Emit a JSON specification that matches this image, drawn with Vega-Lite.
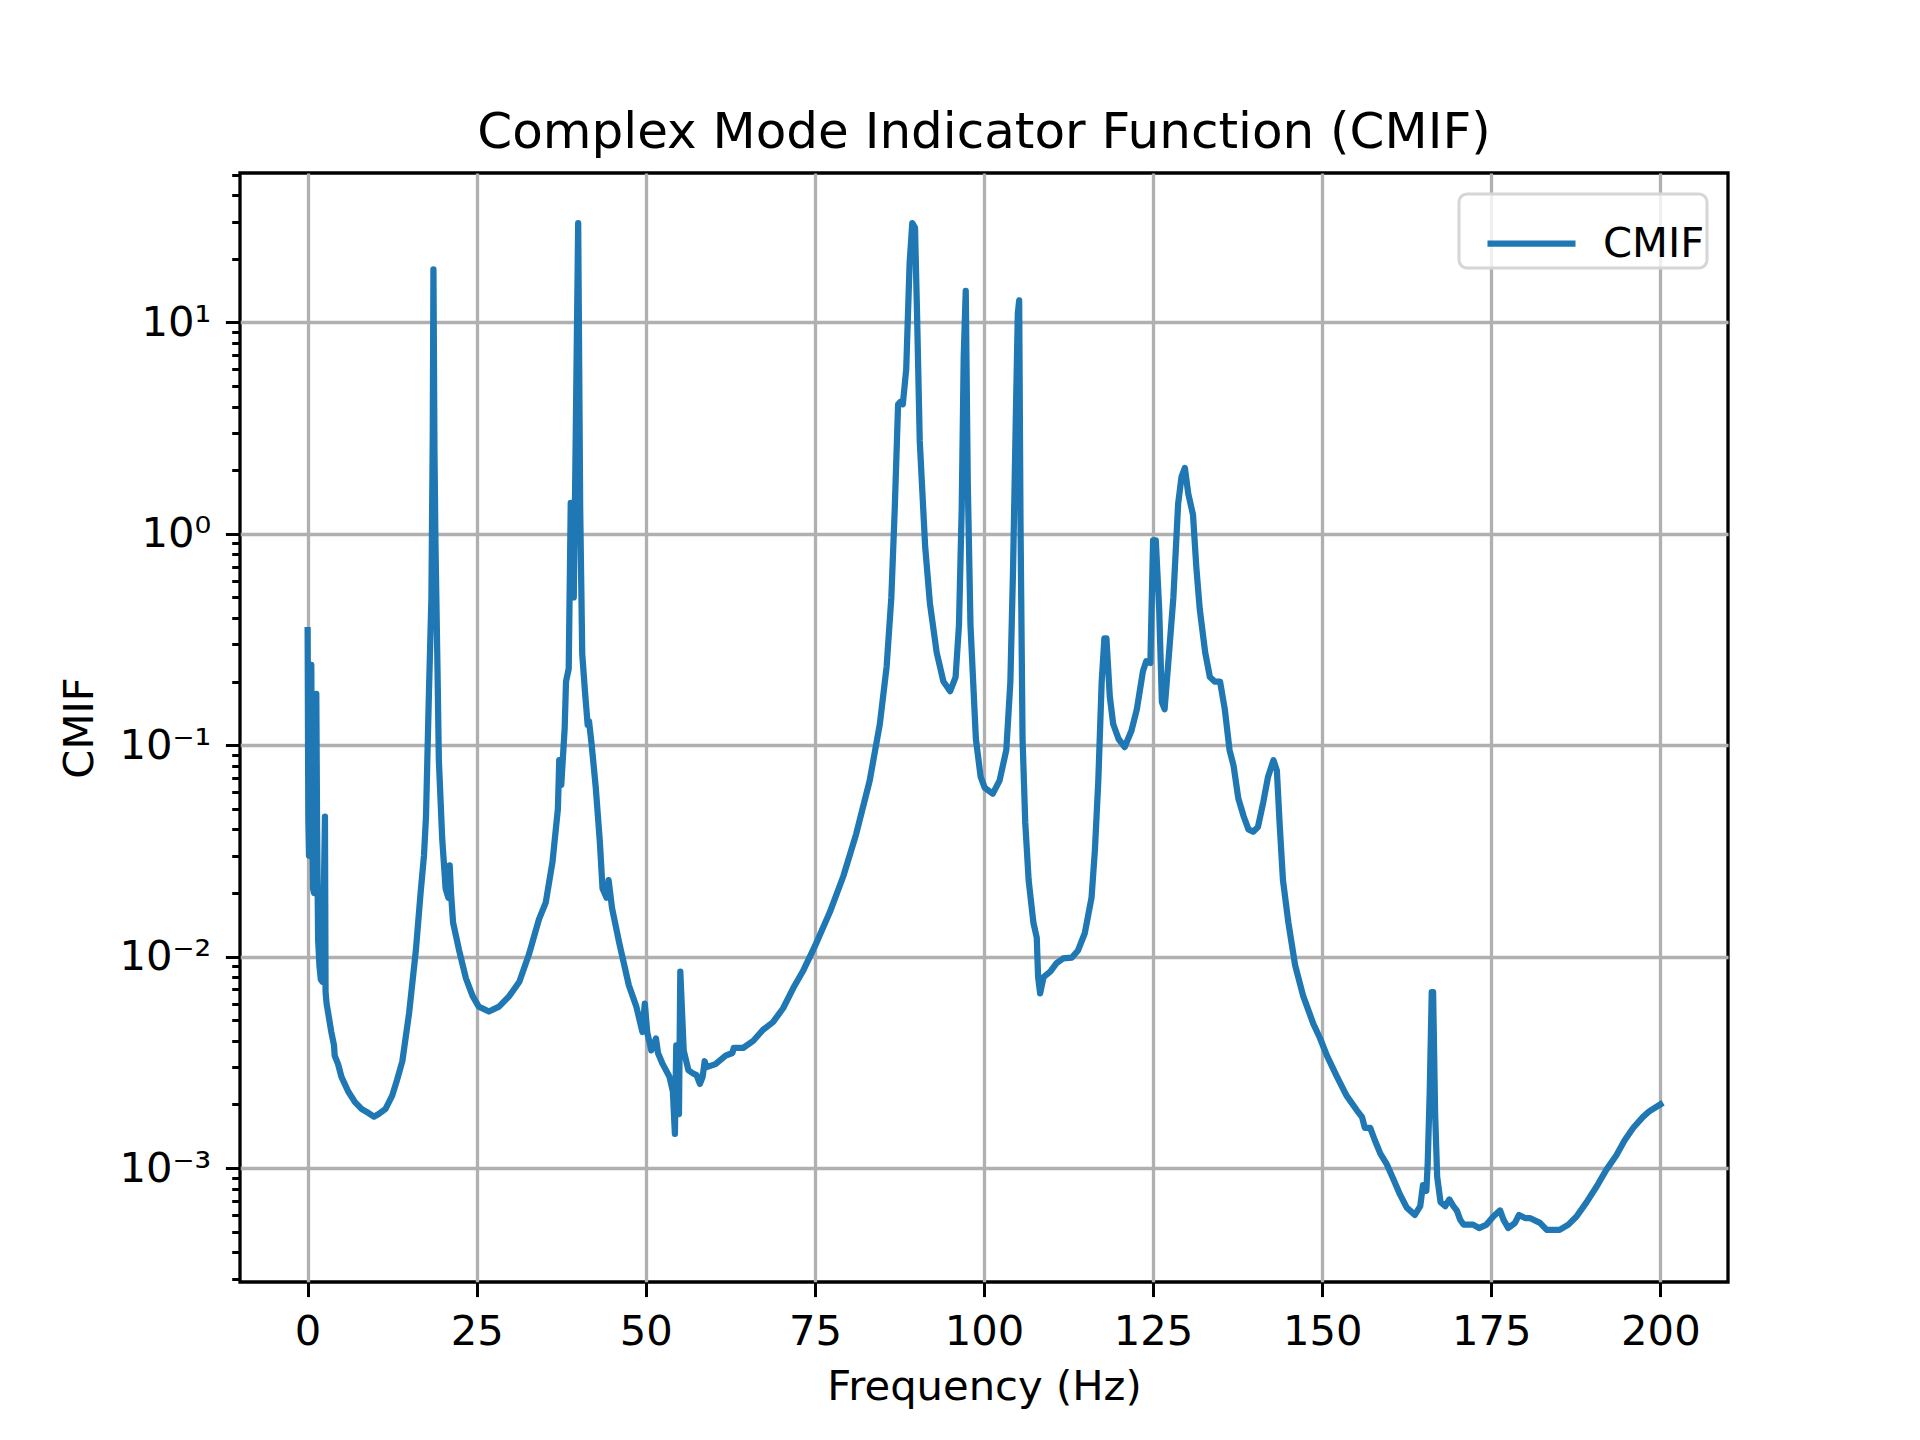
{
  "$schema": "https://vega.github.io/schema/vega-lite/v6.json",
  "title": {
    "text": "Complex Mode Indicator Function (CMIF)",
    "font": "DejaVu Sans",
    "fontSize": 50,
    "fontWeight": "normal",
    "color": "black",
    "anchor": "middle",
    "offset": -3
  },
  "autosize": {"type": "none"},
  "width": 1488,
  "height": 1109,
  "padding": {"left": 240, "top": 173, "right": 192, "bottom": 158},
  "data": {
    "values": [
      {"f": 0.0, "v": 0.35}, {"f": 0.1, "v": 0.045}, {"f": 0.2, "v": 0.03}, {"f": 0.35, "v": 0.05},
      {"f": 0.54, "v": 0.24}, {"f": 0.65, "v": 0.06}, {"f": 0.8, "v": 0.021}, {"f": 0.95, "v": 0.02},
      {"f": 1.1, "v": 0.04}, {"f": 1.28, "v": 0.175}, {"f": 1.4, "v": 0.04}, {"f": 1.55, "v": 0.012},
      {"f": 1.75, "v": 0.009}, {"f": 1.95, "v": 0.0078}, {"f": 2.2, "v": 0.0076}, {"f": 2.56, "v": 0.046},
      {"f": 2.65, "v": 0.0068}, {"f": 2.8, "v": 0.006}, {"f": 3.0, "v": 0.0055}, {"f": 3.5, "v": 0.0044},
      {"f": 3.9, "v": 0.0038}, {"f": 4.0, "v": 0.0034}, {"f": 4.5, "v": 0.0031}, {"f": 5.0, "v": 0.0027},
      {"f": 6.0, "v": 0.0023}, {"f": 7.0, "v": 0.00205}, {"f": 8.0, "v": 0.0019}, {"f": 9.0, "v": 0.00182},
      {"f": 9.8, "v": 0.00175}, {"f": 10.5, "v": 0.0018}, {"f": 11.5, "v": 0.0019}, {"f": 12.5, "v": 0.0022},
      {"f": 13.2, "v": 0.0026}, {"f": 14.0, "v": 0.0032}, {"f": 15.0, "v": 0.0054}, {"f": 16.0, "v": 0.0107},
      {"f": 16.7, "v": 0.02}, {"f": 17.2, "v": 0.03}, {"f": 17.5, "v": 0.046}, {"f": 17.9, "v": 0.16},
      {"f": 18.3, "v": 0.5}, {"f": 18.5, "v": 3.0}, {"f": 18.6, "v": 17.8}, {"f": 18.75, "v": 2.5},
      {"f": 18.9, "v": 0.9}, {"f": 19.2, "v": 0.23}, {"f": 19.4, "v": 0.085}, {"f": 19.9, "v": 0.036},
      {"f": 20.4, "v": 0.021}, {"f": 20.8, "v": 0.019}, {"f": 21.0, "v": 0.027}, {"f": 21.2, "v": 0.02},
      {"f": 21.5, "v": 0.0145}, {"f": 22.4, "v": 0.0107}, {"f": 23.4, "v": 0.0079}, {"f": 24.4, "v": 0.0065},
      {"f": 25.3, "v": 0.0058}, {"f": 26.8, "v": 0.0055}, {"f": 28.3, "v": 0.0058}, {"f": 29.8, "v": 0.0065},
      {"f": 31.3, "v": 0.0076}, {"f": 32.7, "v": 0.0102}, {"f": 34.2, "v": 0.015}, {"f": 35.2, "v": 0.018},
      {"f": 36.2, "v": 0.028}, {"f": 37.0, "v": 0.05}, {"f": 37.2, "v": 0.085}, {"f": 37.5, "v": 0.065},
      {"f": 38.0, "v": 0.12}, {"f": 38.2, "v": 0.2}, {"f": 38.6, "v": 0.23}, {"f": 38.9, "v": 1.4},
      {"f": 39.1, "v": 0.5}, {"f": 39.35, "v": 0.5}, {"f": 39.6, "v": 2.3}, {"f": 40.0, "v": 29.5},
      {"f": 40.3, "v": 1.3}, {"f": 40.6, "v": 0.27}, {"f": 41.0, "v": 0.18}, {"f": 41.4, "v": 0.125},
      {"f": 41.6, "v": 0.13}, {"f": 42.0, "v": 0.1}, {"f": 42.6, "v": 0.063}, {"f": 43.2, "v": 0.035},
      {"f": 43.6, "v": 0.021}, {"f": 44.2, "v": 0.019}, {"f": 44.5, "v": 0.023}, {"f": 45.0, "v": 0.017},
      {"f": 46.1, "v": 0.0115}, {"f": 47.5, "v": 0.0073}, {"f": 48.6, "v": 0.0058}, {"f": 49.5, "v": 0.0044},
      {"f": 49.85, "v": 0.006}, {"f": 50.2, "v": 0.0044}, {"f": 50.8, "v": 0.0036}, {"f": 51.5, "v": 0.0041},
      {"f": 51.8, "v": 0.0035}, {"f": 52.5, "v": 0.0031}, {"f": 53.5, "v": 0.0027}, {"f": 54.0, "v": 0.0023},
      {"f": 54.3, "v": 0.00145}, {"f": 54.5, "v": 0.0038}, {"f": 54.7, "v": 0.0033}, {"f": 54.9, "v": 0.0018},
      {"f": 55.1, "v": 0.0085}, {"f": 55.6, "v": 0.0036}, {"f": 56.3, "v": 0.0029}, {"f": 57.0, "v": 0.0028},
      {"f": 57.5, "v": 0.00275}, {"f": 58.0, "v": 0.0025}, {"f": 58.4, "v": 0.0027}, {"f": 58.7, "v": 0.0032},
      {"f": 59.0, "v": 0.003}, {"f": 60.3, "v": 0.0031}, {"f": 61.8, "v": 0.0034}, {"f": 62.8, "v": 0.0035},
      {"f": 63.0, "v": 0.0037}, {"f": 64.4, "v": 0.0037}, {"f": 65.9, "v": 0.004}, {"f": 67.3, "v": 0.0045},
      {"f": 68.8, "v": 0.0049}, {"f": 70.3, "v": 0.0057}, {"f": 71.8, "v": 0.0071}, {"f": 73.2, "v": 0.0085},
      {"f": 75.0, "v": 0.0112}, {"f": 77.2, "v": 0.0162}, {"f": 79.2, "v": 0.024}, {"f": 81.1, "v": 0.038},
      {"f": 83.1, "v": 0.068}, {"f": 84.6, "v": 0.126}, {"f": 85.6, "v": 0.235}, {"f": 86.3, "v": 0.5},
      {"f": 86.8, "v": 1.3}, {"f": 87.3, "v": 4.1}, {"f": 87.6, "v": 4.2}, {"f": 88.0, "v": 4.1},
      {"f": 88.5, "v": 6.0}, {"f": 89.0, "v": 19}, {"f": 89.4, "v": 29.5}, {"f": 89.8, "v": 28},
      {"f": 90.1, "v": 11}, {"f": 90.5, "v": 2.75}, {"f": 91.3, "v": 0.87}, {"f": 92.0, "v": 0.47},
      {"f": 93.0, "v": 0.275}, {"f": 94.0, "v": 0.2}, {"f": 95.0, "v": 0.18}, {"f": 95.8, "v": 0.21},
      {"f": 96.3, "v": 0.37}, {"f": 96.7, "v": 1.3}, {"f": 97.0, "v": 6.9}, {"f": 97.3, "v": 14.1},
      {"f": 97.6, "v": 1.75}, {"f": 98.0, "v": 0.37}, {"f": 98.8, "v": 0.107}, {"f": 99.5, "v": 0.071},
      {"f": 100.1, "v": 0.063}, {"f": 101.3, "v": 0.059}, {"f": 102.3, "v": 0.068}, {"f": 103.3, "v": 0.095},
      {"f": 103.9, "v": 0.2}, {"f": 104.3, "v": 0.69}, {"f": 104.7, "v": 3.5}, {"f": 105.0, "v": 11},
      {"f": 105.2, "v": 12.7}, {"f": 105.4, "v": 1.1}, {"f": 105.7, "v": 0.107}, {"f": 106.1, "v": 0.043},
      {"f": 106.6, "v": 0.023}, {"f": 107.3, "v": 0.0145}, {"f": 107.8, "v": 0.0123}, {"f": 108.0, "v": 0.008},
      {"f": 108.3, "v": 0.0067}, {"f": 108.8, "v": 0.008}, {"f": 109.8, "v": 0.0085}, {"f": 110.7, "v": 0.0093},
      {"f": 111.7, "v": 0.0098}, {"f": 113.0, "v": 0.0099}, {"f": 113.9, "v": 0.0107}, {"f": 114.9, "v": 0.0129},
      {"f": 115.9, "v": 0.019}, {"f": 116.4, "v": 0.032}, {"f": 116.9, "v": 0.068}, {"f": 117.4, "v": 0.2},
      {"f": 117.8, "v": 0.32}, {"f": 118.1, "v": 0.32}, {"f": 118.6, "v": 0.17}, {"f": 119.1, "v": 0.126},
      {"f": 119.9, "v": 0.107}, {"f": 120.8, "v": 0.098}, {"f": 121.8, "v": 0.117}, {"f": 122.6, "v": 0.148},
      {"f": 123.5, "v": 0.224}, {"f": 124.0, "v": 0.25}, {"f": 124.6, "v": 0.245}, {"f": 125.0, "v": 0.93},
      {"f": 125.4, "v": 0.93}, {"f": 125.9, "v": 0.44}, {"f": 126.3, "v": 0.16}, {"f": 126.7, "v": 0.148},
      {"f": 127.2, "v": 0.235}, {"f": 128.0, "v": 0.5}, {"f": 128.7, "v": 1.38}, {"f": 129.2, "v": 1.86},
      {"f": 129.7, "v": 2.05}, {"f": 130.2, "v": 1.55}, {"f": 130.9, "v": 1.23}, {"f": 131.4, "v": 0.69},
      {"f": 131.9, "v": 0.44}, {"f": 132.7, "v": 0.275}, {"f": 133.4, "v": 0.21}, {"f": 134.1, "v": 0.2},
      {"f": 134.9, "v": 0.2}, {"f": 135.6, "v": 0.148}, {"f": 136.3, "v": 0.095}, {"f": 136.9, "v": 0.08},
      {"f": 137.6, "v": 0.056}, {"f": 138.4, "v": 0.046}, {"f": 139.1, "v": 0.04}, {"f": 139.8, "v": 0.039},
      {"f": 140.5, "v": 0.041}, {"f": 141.3, "v": 0.054}, {"f": 142.0, "v": 0.071}, {"f": 142.8, "v": 0.085},
      {"f": 143.3, "v": 0.076}, {"f": 143.7, "v": 0.043}, {"f": 144.2, "v": 0.023}, {"f": 145.0, "v": 0.0145},
      {"f": 146.0, "v": 0.0091}, {"f": 147.2, "v": 0.0065}, {"f": 148.7, "v": 0.0048}, {"f": 149.7, "v": 0.0041},
      {"f": 150.7, "v": 0.0034}, {"f": 152.2, "v": 0.0027}, {"f": 153.6, "v": 0.0022}, {"f": 155.1, "v": 0.00188},
      {"f": 155.9, "v": 0.00174}, {"f": 156.3, "v": 0.00155}, {"f": 157.1, "v": 0.00155}, {"f": 157.8, "v": 0.00135},
      {"f": 158.6, "v": 0.00117}, {"f": 159.5, "v": 0.00105}, {"f": 160.5, "v": 0.00089}, {"f": 161.5, "v": 0.00075},
      {"f": 162.5, "v": 0.00065}, {"f": 163.7, "v": 0.0006}, {"f": 164.5, "v": 0.00066}, {"f": 164.9, "v": 0.00083},
      {"f": 165.4, "v": 0.00078}, {"f": 165.6, "v": 0.00105}, {"f": 165.9, "v": 0.0023}, {"f": 166.2, "v": 0.0068},
      {"f": 166.4, "v": 0.0068}, {"f": 166.7, "v": 0.0018}, {"f": 167.0, "v": 0.00091}, {"f": 167.5, "v": 0.00069},
      {"f": 168.2, "v": 0.00066}, {"f": 168.8, "v": 0.00071}, {"f": 169.4, "v": 0.00066}, {"f": 169.9, "v": 0.00063},
      {"f": 170.4, "v": 0.00057}, {"f": 170.9, "v": 0.00054}, {"f": 172.3, "v": 0.00054}, {"f": 173.2, "v": 0.00052},
      {"f": 174.3, "v": 0.00054}, {"f": 175.3, "v": 0.00059}, {"f": 176.3, "v": 0.00063}, {"f": 176.8, "v": 0.00057},
      {"f": 177.5, "v": 0.00052}, {"f": 178.5, "v": 0.00055}, {"f": 179.1, "v": 0.0006}, {"f": 180.0, "v": 0.00058},
      {"f": 180.7, "v": 0.00058}, {"f": 182.2, "v": 0.00055}, {"f": 183.2, "v": 0.00051}, {"f": 184.2, "v": 0.00051},
      {"f": 185.1, "v": 0.00051}, {"f": 186.4, "v": 0.00054}, {"f": 187.6, "v": 0.00059}, {"f": 189.1, "v": 0.00069},
      {"f": 190.6, "v": 0.00082}, {"f": 192.0, "v": 0.00098}, {"f": 193.5, "v": 0.00115}, {"f": 194.7, "v": 0.00135},
      {"f": 196.0, "v": 0.00155}, {"f": 197.4, "v": 0.00174}, {"f": 198.4, "v": 0.00186}, {"f": 200.0, "v": 0.002}
    ]
  },
  "transform": [{"calculate": "'CMIF'", "as": "series"}],
  "mark": {"type": "line", "strokeWidth": 6.25, "strokeJoin": "round", "strokeCap": "square", "clip": true},
  "encoding": {
    "x": {
      "field": "f",
      "type": "quantitative",
      "title": "Frequency (Hz)",
      "scale": {"domain": [-10, 210], "nice": false, "zero": false},
      "axis": {
        "values": [0, 25, 50, 75, 100, 125, 150, 175, 200],
        "format": "d",
        "titlePadding": 14
      }
    },
    "y": {
      "field": "v",
      "type": "quantitative",
      "title": "CMIF",
      "scale": {"type": "log", "domain": [0.000289, 50.9], "nice": false, "zero": false},
      "axis": {
        "values": [0.0003, 0.0004, 0.0005, 0.0006, 0.0007, 0.0008, 0.0009,
                   0.001, 0.002, 0.003, 0.004, 0.005, 0.006, 0.007, 0.008, 0.009,
                   0.01, 0.02, 0.03, 0.04, 0.05, 0.06, 0.07, 0.08, 0.09,
                   0.1, 0.2, 0.3, 0.4, 0.5, 0.6, 0.7, 0.8, 0.9,
                   1, 2, 3, 4, 5, 6, 7, 8, 9,
                   10, 20, 30, 40, 50],
        "labelExpr": "datum.value == 10 ? '10¹' : datum.value == 1 ? '10⁰' : datum.value == 0.1 ? '10⁻¹' : datum.value == 0.01 ? '10⁻²' : datum.value == 0.001 ? '10⁻³' : ''",
        "tickSize": {"condition": {"test": "abs(log(datum.value)/LN10 - round(log(datum.value)/LN10)) < 0.0001", "value": 14.6}, "value": 8.3},
        "gridOpacity": {"condition": {"test": "abs(log(datum.value)/LN10 - round(log(datum.value)/LN10)) < 0.0001", "value": 1}, "value": 0},
        "labelOverlap": false,
        "labelBound": false,
        "titlePadding": 18
      }
    },
    "color": {
      "field": "series",
      "type": "nominal",
      "scale": {"range": ["#1f77b4"]},
      "legend": {
        "title": null,
        "orient": "top-right",
        "offset": 21,
        "padding": 2,
        "fillColor": "rgba(255,255,255,0.8)",
        "strokeColor": "#d6d6d6",
        "cornerRadius": 8,
        "symbolType": "stroke",
        "symbolSize": 7744,
        "symbolOffset": 23,
        "symbolStrokeWidth": 6.25,
        "labelFont": "DejaVu Sans",
        "labelFontSize": 41.7,
        "labelColor": "black",
        "labelOffset": 24,
        "encode": {
          "legend": {"update": {"strokeWidth": {"value": 3}}}
        }
      }
    }
  },
  "config": {
    "view": {"stroke": "black", "strokeWidth": 3.3},
    "axis": {
      "domain": false,
      "grid": true,
      "gridColor": "#b0b0b0",
      "gridWidth": 3.3,
      "ticks": true,
      "tickColor": "black",
      "tickSize": 14.6,
      "tickWidth": 3,
      "labelFont": "DejaVu Sans",
      "labelFontSize": 41.7,
      "labelColor": "black",
      "labelPadding": 14.6,
      "titleFont": "DejaVu Sans",
      "titleFontSize": 41.7,
      "titleFontWeight": "normal",
      "titleColor": "black"
    }
  }
}
